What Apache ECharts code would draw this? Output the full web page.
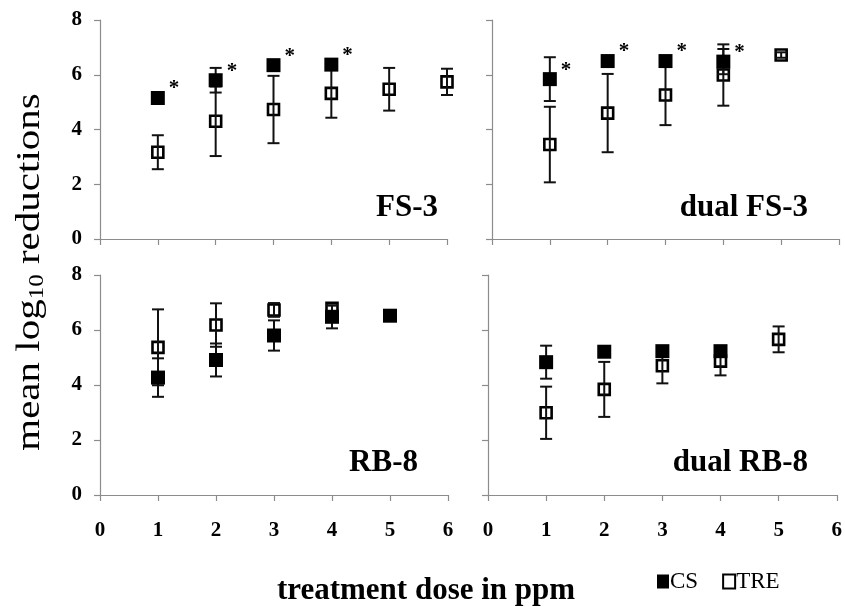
<!DOCTYPE html>
<html>
<head>
<meta charset="utf-8">
<script src="https://cdn.jsdelivr.net/npm/echarts@6/dist/echarts.min.js"></script>
<style>html,body{margin:0;padding:0;background:#fff}#c{width:845px;height:607px}</style>
</head>
<body>
<div id="c"></div>
<script>
// ---------- data ----------
const doses = [1, 2, 3, 4, 5, 6];
const xTicks = [0, 1, 2, 3, 4, 5, 6];
const yTicks = [0, 2, 4, 6, 8];
const panelNames = ['FS-3', 'dual FS-3', 'RB-8', 'dual RB-8'];
const seriesNames = ['CS', 'TRE'];

// FS-3
const fs3CS = [5.15, 5.8, 6.35, 6.37, null, null];
const fs3CSErr = [0, 0.45, 0, 0, 0, 0];
const fs3CSStar = [1, 1, 1, 1, 0, 0];
const fs3TRE = [3.17, 4.3, 4.73, 5.32, 5.47, 5.74];
const fs3TREErr = [0.62, 1.27, 1.23, 0.89, 0.78, 0.48];

// dual FS-3
const dualFs3CS = [5.84, 6.5, 6.5, 6.48, null, null];
const dualFs3CSErr = [0.8, 0, 0, 0.46, 0, 0];
const dualFs3CSStar = [1, 1, 1, 1, 0, 0];
const dualFs3TRE = [3.45, 4.6, 5.26, 5.99, 6.72, null];
const dualFs3TREErr = [1.38, 1.43, 1.1, 1.12, 0.1, 0];

// RB-8
const rb8CS = [4.27, 4.91, 5.8, 6.48, 6.52, null];
const rb8CSErr = [0.7, 0.6, 0.55, 0.42, 0, 0];
const rb8CSStar = [0, 0, 0, 0, 0, 0];
const rb8TRE = [5.37, 6.18, 6.73, 6.79, null, null];
const rb8TREErr = [1.38, 0.79, 0.25, 0.1, 0, 0];

// dual RB-8
const dualRb8CS = [4.83, 5.21, 5.23, 5.23, null, null];
const dualRb8CSErr = [0.6, 0, 0, 0, 0, 0];
const dualRb8CSStar = [0, 0, 0, 0, 0, 0];
const dualRb8TRE = [2.99, 3.84, 4.7, 4.87, 5.66, null];
const dualRb8TREErr = [0.95, 1.0, 0.64, 0.52, 0.47, 0];

// ---------- build ----------
const panels = [
  { cs: fs3CS, csErr: fs3CSErr, star: fs3CSStar, tre: fs3TRE, treErr: fs3TREErr },
  { cs: dualFs3CS, csErr: dualFs3CSErr, star: dualFs3CSStar, tre: dualFs3TRE, treErr: dualFs3TREErr },
  { cs: rb8CS, csErr: rb8CSErr, star: rb8CSStar, tre: rb8TRE, treErr: rb8TREErr },
  { cs: dualRb8CS, csErr: dualRb8CSErr, star: dualRb8CSStar, tre: dualRb8TRE, treErr: dualRb8TREErr }
];

const SERIF = "'Liberation Serif', 'Times New Roman', serif";
const AX = '#8c8c8c';

const grids = [
  { left: 100, top: 20, width: 347, height: 219 },
  { left: 492, top: 20, width: 347, height: 219 },
  { left: 100, top: 275, width: 348, height: 220 },
  { left: 488, top: 275, width: 349, height: 220 }
];

const xAxes = grids.map((g, i) => ({
  type: 'value', gridIndex: i, min: xTicks[0], max: xTicks[xTicks.length - 1], interval: 1,
  axisLine: { show: true, lineStyle: { color: AX, width: 1.2 } },
  axisTick: { show: true, length: 6, lineStyle: { color: AX, width: 1.2 } },
  splitLine: { show: false },
  axisLabel: { show: i >= 2, margin: 25, fontSize: 21, fontWeight: 'bold', fontFamily: SERIF, color: '#000' }
}));
const yAxes = grids.map((g, i) => ({
  type: 'value', gridIndex: i, min: yTicks[0], max: yTicks[yTicks.length - 1], interval: 2,
  axisLine: { show: true, lineStyle: { color: AX, width: 1.2 } },
  axisTick: { show: true, length: 6, lineStyle: { color: AX, width: 1.2 } },
  splitLine: { show: false },
  axisLabel: { show: i % 2 === 0, margin: 18, fontSize: 21, fontWeight: 'bold', fontFamily: SERIF, color: '#000' }
}));

function errData(vals, errs) {
  const out = [];
  doses.forEach((d, k) => { if (vals[k] != null && errs[k] > 0) out.push([d, vals[k], errs[k]]); });
  return out;
}
function renderErr(params, api) {
  const x = api.value(0), y = api.value(1), e = api.value(2);
  const t = api.coord([x, y + e]), b = api.coord([x, y - e]);
  const hw = 6;
  const st = { stroke: '#111', lineWidth: 2 };
  return {
    type: 'group', children: [
      { type: 'line', shape: { x1: t[0], y1: t[1], x2: b[0], y2: b[1] }, style: st },
      { type: 'line', shape: { x1: t[0] - hw, y1: t[1], x2: t[0] + hw, y2: t[1] }, style: st },
      { type: 'line', shape: { x1: b[0] - hw, y1: b[1], x2: b[0] + hw, y2: b[1] }, style: st }
    ]
  };
}

const series = [];
panels.forEach((p, i) => {
  const treData = [];
  doses.forEach((d, k) => { if (p.tre[k] != null) treData.push([d, p.tre[k]]); });
  const csData = [];
  doses.forEach((d, k) => {
    if (p.cs[k] != null) {
      csData.push({
        value: [d, p.cs[k]],
        label: { show: !!p.star[k] }
      });
    }
  });
  series.push({
    name: 'TRE', type: 'scatter', xAxisIndex: i, yAxisIndex: i, z: 2,
    symbol: 'rect', symbolSize: 11,
    itemStyle: { color: '#fff', borderColor: '#000', borderWidth: 2.6, opacity: 1 },
    data: treData
  });
  series.push({
    type: 'custom', xAxisIndex: i, yAxisIndex: i, z: 3,
    renderItem: renderErr, data: errData(p.tre, p.treErr), silent: true
  });
  series.push({
    type: 'custom', xAxisIndex: i, yAxisIndex: i, z: 3,
    renderItem: renderErr, data: errData(p.cs, p.csErr), silent: true
  });
  series.push({
    name: 'CS', type: 'scatter', xAxisIndex: i, yAxisIndex: i, z: 4,
    symbol: 'rect', symbolSize: 14,
    itemStyle: { color: '#000', opacity: 1 },
    label: {
      show: false, formatter: '*', position: 'right', distance: 2, offset: [2, -9],
      fontSize: 21, fontWeight: 'bold', fontFamily: SERIF, color: '#000'
    },
    data: csData
  });
});

const panelLabelPos = [
  { x: 438, y: 223 }, { x: 808, y: 223 }, { x: 418, y: 478 }, { x: 808, y: 478 }
];
const graphics = panelNames.map((n, i) => ({
  type: 'text', x: panelLabelPos[i].x, y: panelLabelPos[i].y,
  style: { text: n, textAlign: 'right', textVerticalAlign: 'bottom', font: 'bold 31px ' + SERIF, fill: '#000' }
}));
graphics.push({
  type: 'text', x: 426, y: 591,
  style: { text: 'treatment dose in ppm', textAlign: 'center', textVerticalAlign: 'middle', font: 'bold 31px ' + SERIF, fill: '#000' }
});
graphics.push({
  type: 'text', x: 30, y: 272, rotation: Math.PI / 2, scaleY: 0.82,
  style: {
    text: '{a|mean log}{s|10}{a| reductions}',
    textAlign: 'center', textVerticalAlign: 'middle', fill: '#000',
    rich: {
      a: { fontSize: 41, fontFamily: SERIF, lineHeight: 44, fill: '#000' },
      s: { fontSize: 25, fontFamily: SERIF, lineHeight: 20, verticalAlign: 'bottom', fill: '#000' }
    }
  }
});

const chart = echarts.init(document.getElementById('c'), null, { renderer: 'canvas' });
chart.setOption({
  animation: false,
  backgroundColor: '#fff',
  grid: grids,
  xAxis: xAxes,
  yAxis: yAxes,
  legend: {
    left: 652, top: 565, itemWidth: 12, itemHeight: 14, itemGap: 24,
    selectedMode: false,
    textStyle: { fontSize: 23, fontFamily: SERIF, color: '#000', padding: [0, 0, 0, -4] },
    data: [
      { name: seriesNames[0], icon: 'rect', itemStyle: { color: '#000' } },
      { name: seriesNames[1], icon: 'rect', itemStyle: { color: '#fff', borderColor: '#000', borderWidth: 2 } }
    ]
  },
  graphic: graphics,
  series: series
});
</script>
</body>
</html>
